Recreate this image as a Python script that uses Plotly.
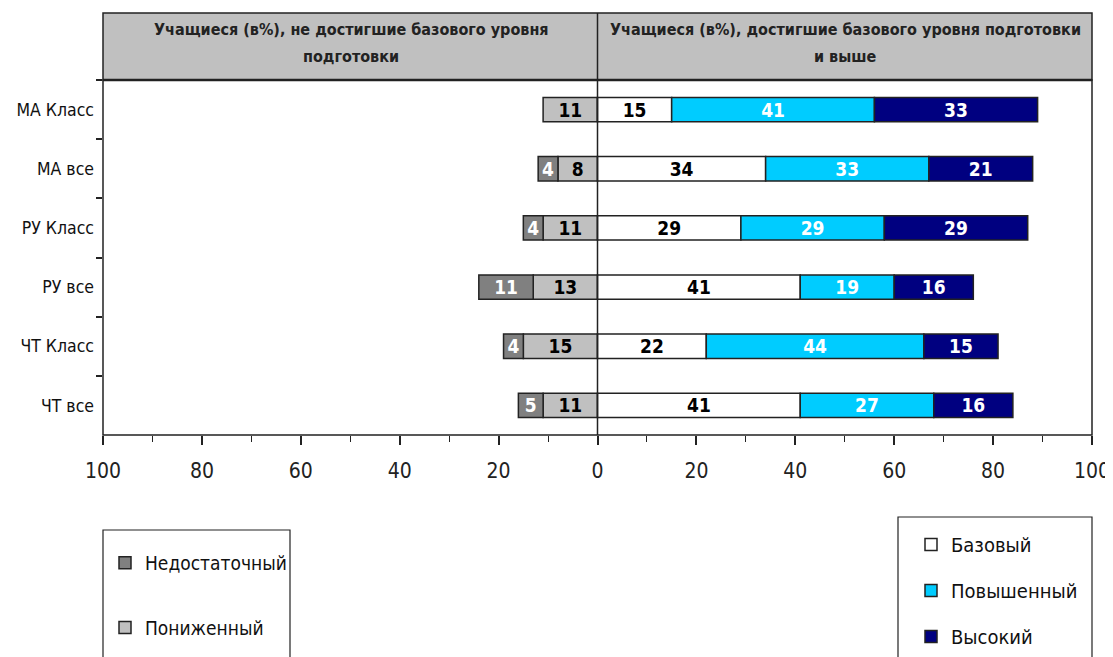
import plotly.graph_objects as go

categories = ["МА Класс", "МА все", "РУ Класс", "РУ все", "ЧТ Класс", "ЧТ все"]
insufficient = [0, 4, 4, 11, 4, 5]      # Недостаточный
lowered = [11, 8, 11, 13, 15, 11]       # Пониженный
basic = [15, 34, 29, 41, 22, 41]        # Базовый
elevated = [41, 33, 29, 19, 44, 27]     # Повышенный
high = [33, 21, 29, 16, 15, 16]         # Высокий
x_tick_vals = [-100, -80, -60, -40, -20, 0, 20, 40, 60, 80, 100]
x_tick_text = ["100", "80", "60", "40", "20", "0", "20", "40", "60", "80", "100"]
header_left = ["Учащиеся (в%), не достигшие базового уровня", "подготовки"]
header_right = ["Учащиеся (в%), достигшие базового уровня подготовки", "и выше"]

FONT = "DejaVu Sans Condensed, Liberation Sans Narrow, Arial Narrow, sans-serif"
OFF = 8  # page body margin
W, H = 1113 - OFF, 657 - OFF
# plot area in screen pixels
SL, SR, ST, SB = 103, 1092, 80, 435
L, R, T, B = SL - OFF, SR - OFF, ST - OFF, SB - OFF

def px_x(p):
    return (p - SL) / (SR - SL)

def px_y(p):
    return (SB - p) / (SB - ST)

def lbl(vals):
    return [str(v) if v else "" for v in vals]

fig = go.Figure()
series = [
    ("Пониженный", [-v for v in lowered], lbl(lowered), "#C0C0C0", "black", "legend", 2),
    ("Недостаточный", [-v for v in insufficient], lbl(insufficient), "#808080", "white", "legend", 1),
    ("Базовый", basic, lbl(basic), "#FFFFFF", "black", "legend2", 3),
    ("Повышенный", elevated, lbl(elevated), "#00CCFF", "white", "legend2", 4),
    ("Высокий", high, lbl(high), "#000080", "white", "legend2", 5),
]
for name, vals, txt, col, tcol, leg, rank in series:
    fig.add_trace(go.Bar(
        y=categories, x=vals, orientation="h", name=name,
        marker=dict(color=col, line=dict(color="#222222", width=1.5)),
        width=0.41, text=txt, textposition="inside", insidetextanchor="middle",
        textangle=0, constraintext="none",
        textfont=dict(family=FONT, size=19, color=tcol, weight="bold"),
        legend=leg, legendrank=rank, legendgroup=name, hoverinfo="skip",
    ))

shapes = [
    dict(type="rect", xref="paper", yref="paper", x0=0, x1=1, y0=1, y1=px_y(13),
         fillcolor="#C0C0C0", line=dict(color="#222222", width=1.5), layer="below"),
    dict(type="line", xref="paper", yref="paper", x0=0, x1=1, y0=1, y1=1,
         line=dict(color="#222222", width=2.5)),
    dict(type="rect", xref="paper", yref="paper", x0=0, x1=1, y0=0, y1=1,
         line=dict(color="#222222", width=1.5)),
    dict(type="line", xref="x", yref="paper", x0=0, x1=0, y0=0, y1=px_y(13),
         line=dict(color="#222222", width=1.5)),
    dict(type="rect", xref="paper", yref="paper", x0=0, x1=px_x(290), y0=px_y(530), y1=px_y(690),
         line=dict(color="#222222", width=1.2), fillcolor="rgba(0,0,0,0)"),
    dict(type="rect", xref="paper", yref="paper", x0=px_x(898), x1=1, y0=px_y(517), y1=px_y(690),
         line=dict(color="#222222", width=1.2), fillcolor="rgba(0,0,0,0)"),
]

annotations = []
for lines, cx in ((header_left, 351), (header_right, 845)):
    for line, cy in zip(lines, (30, 56)):
        annotations.append(dict(
            text=line, xref="paper", yref="paper", x=px_x(cx), y=px_y(cy),
            showarrow=False, font=dict(family=FONT, size=16, color="#222222", weight="bold"),
            xanchor="center", yanchor="middle"))

fig.update_layout(
    width=W, height=H,
    margin=dict(l=L, r=W - R, t=T, b=H - B, autoexpand=False),
    paper_bgcolor="white", plot_bgcolor="white",
    barmode="relative",
    showlegend=True,
    font=dict(family=FONT, color="black"),
    shapes=shapes, annotations=annotations,
    legend=dict(x=px_x(105), y=px_y(544), xanchor="left", yanchor="top",
                font=dict(family=FONT, size=19, color="#111111"),
                bgcolor="rgba(0,0,0,0)", borderwidth=0, tracegroupgap=37,
                traceorder="grouped", itemwidth=30),
    legend2=dict(x=px_x(911), y=px_y(525), xanchor="left", yanchor="top",
                 font=dict(family=FONT, size=20, color="#111111"),
                 bgcolor="rgba(0,0,0,0)", borderwidth=0, tracegroupgap=17,
                 traceorder="grouped", itemwidth=30),
    xaxis=dict(range=[-100, 100], tickvals=x_tick_vals, ticktext=x_tick_text,
               ticks="outside", ticklen=9, tickwidth=1.5, tickcolor="#222222",
               minor=dict(dtick=10, tick0=0, ticks="outside", ticklen=6, tickwidth=1.2, tickcolor="#222222"),
               showgrid=False, zeroline=False, showline=False,
               tickfont=dict(family=FONT, size=21, color="#222222"), ticklabelstandoff=8,
               fixedrange=True),
    yaxis=dict(categoryorder="array", categoryarray=categories, autorange="reversed",
               ticks="outside", tickson="boundaries", ticklen=6, tickwidth=1.5, tickcolor="#222222",
               showgrid=False, zeroline=False, showline=False,
               tickfont=dict(family=FONT, size=17.5, color="#111111"), ticklabelstandoff=8,
               fixedrange=True),
)

fig.write_html("out.html")
